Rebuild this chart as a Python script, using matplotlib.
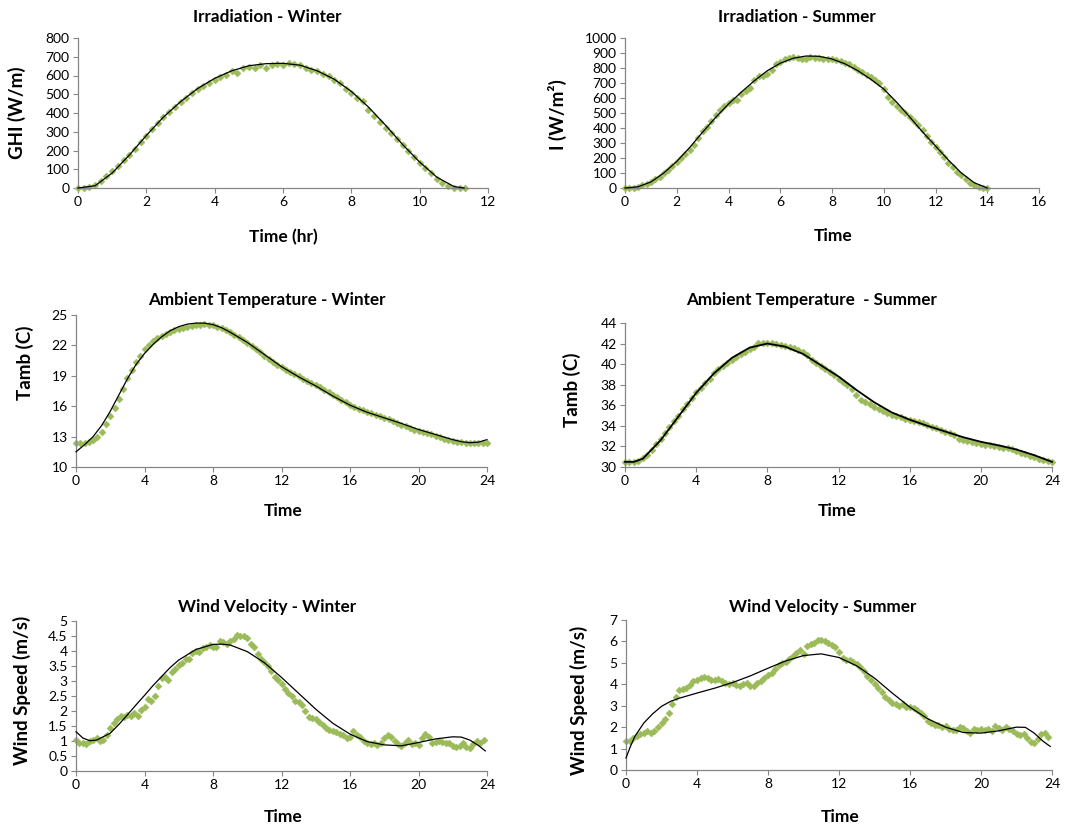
import numpy as np
import matplotlib
matplotlib.use('Agg')
import matplotlib.pyplot as plt
from matplotlib.ticker import FuncFormatter

plt.rcParams['font.family'] = ['Lato', 'DejaVu Sans']

# ---------------- data ----------------
# Irradiation - Winter (10-minute samples starting at 0 h)
irr_w_step = 1 / 6
irr_w_pts = [0, 0, 3, 15, 40, 65, 90, 118, 148, 178, 210, 245, 280, 315, 345,
             378, 405, 432, 458, 480, 505, 528, 545, 562, 578, 592, 605, 625,
             615, 638, 648, 638, 655, 642, 658, 662, 658, 668, 662, 658, 640,
             632, 622, 610, 598, 578, 560, 530, 505, 482, 462, 415, 385, 352,
             322, 295, 262, 230, 200, 165, 135, 105, 78, 50, 27, 12, 2, 0, 0]
irr_w_fit_t = [0, 0.5, 1, 1.5, 2, 2.5, 3, 3.5, 4, 4.5, 5, 5.5, 6, 6.5, 7, 7.5,
               8, 8.5, 9, 9.5, 10, 10.5, 11, 11.3]
irr_w_fit = [0, 12, 80, 175, 280, 378, 460, 530, 585, 625, 652, 663, 665, 655,
             625, 580, 515, 432, 335, 232, 138, 58, 8, 0]

# Irradiation - Summer (10-minute samples)
irr_s_step = 1 / 6
irr_s_pts = [0, 0, 2, 8, 18, 30, 42, 58, 75, 98, 120, 148, 175, 200, 228, 255,
             285, 335, 378, 410, 450, 488, 518, 550, 568, 585, 590, 630, 650,
             665, 720, 745, 748, 760, 790, 830, 840, 858, 870, 872, 870, 858,
             858, 872, 870, 865, 862, 860, 860, 855, 845, 835, 825, 808, 790,
             775, 755, 738, 718, 700, 660, 610, 575, 545, 520, 500, 475, 445,
             420, 385, 350, 310, 275, 238, 205, 170, 142, 110, 85, 58, 35, 18,
             5, 0, 0]
irr_s_fit_t = [0, 0.5, 1, 1.5, 2, 2.5, 3, 3.5, 4, 4.5, 5, 5.5, 6, 6.5, 7, 7.5,
               8, 8.5, 9, 9.5, 10, 10.5, 11, 11.5, 12, 12.5, 13, 13.5, 14]
irr_s_fit = [0, 8, 40, 100, 177, 270, 372, 470, 560, 640, 715, 782, 832, 865,
             880, 878, 860, 828, 782, 725, 660, 572, 474, 374, 280, 186, 100,
             35, 0]

# Ambient Temperature - Winter (15-minute samples)
tmp_w_step = 0.25
tmp_w_pts = [12.4, 12.4, 12.4, 12.5, 12.7, 13.0, 13.5, 14.2, 15.0, 15.8, 16.7,
             17.7, 18.8, 19.6, 20.35, 21.0, 21.6, 22.0, 22.4, 22.7, 22.95,
             23.15, 23.35, 23.5, 23.65, 23.75, 23.85, 23.95, 24.0, 24.05, 24.1,
             24.05, 24.0, 23.85, 23.7, 23.5, 23.3, 23.05, 22.8, 22.5, 22.25,
             21.95, 21.65, 21.3, 21.0, 20.7, 20.4, 20.1, 19.85, 19.6, 19.4,
             19.15, 18.95, 18.7, 18.5, 18.3, 18.05, 17.85, 17.6, 17.4, 17.15,
             16.9, 16.65, 16.4, 16.1, 15.9, 15.75, 15.6, 15.45, 15.3, 15.15,
             15.0, 14.85, 14.7, 14.55, 14.35, 14.15, 14.0, 13.85, 13.7, 13.6,
             13.5, 13.4, 13.3, 13.1, 12.95, 12.8, 12.7, 12.6, 12.5, 12.45,
             12.4, 12.4, 12.4, 12.4, 12.4, 12.4]
tmp_w_fit_t = [0, 0.5, 1, 1.5, 2, 2.5, 3, 3.5, 4, 4.5, 5, 5.5, 6, 6.5, 7, 7.5,
               8, 8.5, 9, 9.5, 10, 10.5, 11, 11.5, 12, 13, 14, 15, 16, 17, 18,
               19, 20, 21, 22, 22.5, 23, 23.5, 24]
tmp_w_fit = [11.5, 12.2, 13.0, 14.1, 15.5, 17.1, 18.7, 20.1, 21.2, 22.1, 22.85,
             23.45, 23.85, 24.1, 24.2, 24.2, 24.05, 23.75, 23.3, 22.8, 22.3,
             21.7, 21.1, 20.5, 19.9, 18.9, 18.0, 17.0, 16.1, 15.4, 14.85, 14.3,
             13.7, 13.2, 12.7, 12.5, 12.4, 12.45, 12.7]

# Ambient Temperature - Summer (15-minute samples)
tmp_s_step = 0.25
tmp_s_pts = [30.5, 30.45, 30.45, 30.6, 30.85, 31.2, 31.65, 32.2, 32.7, 33.3,
             33.9, 34.45, 35.0, 35.6, 36.15, 36.75, 37.25, 37.7, 38.15, 38.6,
             39.1, 39.5, 39.85, 40.15, 40.45, 40.7, 40.95, 41.2, 41.45, 41.7,
             42.1, 42.05, 42.1, 42.05, 42.0, 41.9, 41.8, 41.7, 41.55, 41.4,
             41.2, 40.9, 40.4, 40.1, 39.8, 39.5, 39.2, 38.9, 38.6, 38.3, 37.95,
             37.55, 37.0, 36.55, 36.35, 36.1, 35.85, 35.6, 35.4, 35.25, 35.1,
             34.95, 34.85, 34.7, 34.6, 34.5, 34.4, 34.3, 34.1, 33.9, 33.75,
             33.6, 33.45, 33.3, 33.15, 32.75, 32.65, 32.55, 32.4, 32.3, 32.2,
             32.15, 32.1, 32.0, 31.95, 31.85, 31.8, 31.75, 31.6, 31.4, 31.25,
             31.1, 30.95, 30.8, 30.65, 30.55, 30.45]
tmp_s_fit_t = [0, 0.5, 1, 2, 3, 4, 5, 6, 7, 8, 9, 10, 11, 12, 13, 14, 15, 16,
               17, 18, 19, 20, 21, 22, 23, 24]
tmp_s_fit = [30.5, 30.5, 30.8, 32.6, 34.9, 37.2, 39.1, 40.6, 41.6, 42.0, 41.7,
             41.0, 39.9, 38.8, 37.5, 36.3, 35.3, 34.6, 34.0, 33.45, 32.9,
             32.45, 32.1, 31.7, 31.15, 30.5]

# Wind Velocity - Winter (12-minute samples)
wnd_w_step = 0.2
wnd_w_pts = [1.05, 0.95, 0.92, 0.90, 1.00, 1.05, 1.10, 1.00, 1.05, 1.20, 1.45,
             1.60, 1.75, 1.85, 1.80, 1.88, 1.85, 1.95, 1.82, 2.05, 2.15, 2.40,
             2.35, 2.50, 2.85, 3.10, 3.15, 3.05, 3.30, 3.40, 3.55, 3.60, 3.75,
             3.72, 3.95, 4.00, 3.98, 4.10, 4.15, 4.20, 4.15, 4.12, 4.32, 4.30,
             4.25, 4.35, 4.40, 4.52, 4.50, 4.50, 4.45, 4.25, 4.15, 3.90, 3.75,
             3.65, 3.50, 3.35, 3.15, 3.05, 2.90, 2.75, 2.60, 2.50, 2.35, 2.30,
             2.20, 2.00, 1.80, 1.78, 1.75, 1.65, 1.55, 1.45, 1.38, 1.35, 1.30,
             1.25, 1.20, 1.10, 1.15, 1.35, 1.20, 1.15, 1.00, 0.95, 0.90, 0.95,
             0.88, 0.95, 1.10, 1.20, 1.15, 1.00, 0.90, 0.85, 0.95, 1.05, 0.90,
             0.95, 0.88, 1.10, 1.25, 1.15, 0.95, 0.98, 1.00, 0.98, 0.95, 0.95,
             0.85, 0.80, 0.85, 0.95, 0.80, 0.78, 0.90, 1.00, 0.95, 1.05]
wnd_w_fit_t = [0, 0.4, 0.8, 1.2, 2, 2.5, 3, 3.5, 4, 4.5, 5, 5.5, 6, 7, 8, 8.5,
               9, 10, 11, 12, 13, 14, 15, 16, 17, 18, 19, 20, 21, 22, 22.5, 23,
               23.5, 23.9]
wnd_w_fit = [1.31, 1.1, 1.01, 1.03, 1.26, 1.55, 1.87, 2.2, 2.52, 2.85, 3.15,
             3.45, 3.7, 4.05, 4.22, 4.23, 4.2, 3.98, 3.61, 3.12, 2.59, 2.06,
             1.59, 1.23, 0.98, 0.87, 0.84, 0.95, 1.07, 1.14, 1.13, 1.03, 0.85,
             0.67]

# Wind Velocity - Summer (12-minute samples)
wnd_s_step = 0.2
wnd_s_pts = [1.35, 1.35, 1.50, 1.60, 1.70, 1.75, 1.80, 1.75, 1.80, 2.00, 2.20,
             2.40, 2.65, 3.10, 3.40, 3.75, 3.80, 3.85, 3.95, 4.15, 4.20, 4.30,
             4.35, 4.30, 4.22, 4.20, 4.25, 4.15, 4.05, 4.00, 4.05, 3.95, 3.90,
             4.00, 4.05, 3.90, 3.92, 4.05, 4.15, 4.30, 4.45, 4.55, 4.70, 4.90,
             5.00, 5.02, 5.20, 5.30, 5.45, 5.60, 5.40, 5.80, 5.90, 5.95, 6.08,
             6.05, 6.00, 5.92, 5.85, 5.75, 5.50, 5.25, 5.15, 5.12, 5.05, 4.95,
             4.80, 4.60, 4.40, 4.20, 4.00, 3.85, 3.65, 3.40, 3.25, 3.12, 3.08,
             3.00, 3.10, 2.95, 2.92, 2.88, 2.80, 2.65, 2.50, 2.30, 2.20, 2.12,
             2.08, 2.00, 2.05, 1.92, 1.85, 1.88, 2.00, 1.95, 1.82, 1.75, 1.92,
             1.88, 1.90, 1.85, 1.90, 1.82, 2.05, 1.98, 1.85, 2.00, 1.92, 1.80,
             1.70, 1.62, 1.68, 1.50, 1.30, 1.28, 1.45, 1.70, 1.75, 1.55]
wnd_s_fit_t = [0, 0.25, 0.5, 1, 1.5, 2, 2.5, 3, 4, 5, 6, 7, 8, 9, 10, 11, 12,
               13, 14, 15, 16, 17, 18, 19, 20, 21, 22, 22.5, 23, 23.5, 23.9]
wnd_s_fit = [0.56, 1.1, 1.57, 2.19, 2.62, 2.97, 3.2, 3.35, 3.59, 3.82, 4.08,
             4.39, 4.75, 5.09, 5.34, 5.42, 5.25, 4.86, 4.29, 3.59, 2.93, 2.39,
             2.0, 1.75, 1.72, 1.83, 2.0, 1.99, 1.72, 1.34, 1.1]

# ---------------- style ----------------
GREEN = '#9BBB59'
AXIS_GRAY = '#868686'
W, H = 1069, 827


def fig_rect(x0, y0, x1, y1):
    return [x0 / W, 1 - y1 / H, (x1 - x0) / W, (y1 - y0) / H]


fig = plt.figure(figsize=(W / 100, H / 100), dpi=100)
fmt = FuncFormatter(lambda v, p: '{:g}'.format(round(v, 2)))


def panel(rect, pts, step, fit_t, fit, xlim, xticks, ylim, yticks, lw=0.9):
    ax = fig.add_axes(fig_rect(*rect))
    t = np.arange(len(pts)) * step
    ax.plot(t, pts, linestyle='none', marker='D', ms=3.5, mfc=GREEN,
            mec=GREEN, mew=0.4, clip_on=False, zorder=2)
    ax.plot(fit_t, fit, color='black', lw=lw, zorder=3, clip_on=False)
    ax.set_xlim(*xlim)
    ax.set_ylim(*ylim)
    ax.set_xticks(xticks)
    ax.set_yticks(yticks)
    ax.yaxis.set_major_formatter(fmt)
    for s in ('top', 'right'):
        ax.spines[s].set_visible(False)
    for s in ('left', 'bottom'):
        ax.spines[s].set_color(AXIS_GRAY)
        ax.spines[s].set_linewidth(0.9)
    ax.tick_params(direction='out', length=3.5, width=0.8, color=AXIS_GRAY,
                   labelsize=10, labelcolor='black', pad=2.5)
    ax.patch.set_alpha(0)
    return ax


panel((78, 38, 488, 188), irr_w_pts, irr_w_step, irr_w_fit_t, irr_w_fit,
      (0, 12), range(0, 13, 2), (0, 800), range(0, 801, 100))
panel((625, 38, 1039, 188), irr_s_pts, irr_s_step, irr_s_fit_t, irr_s_fit,
      (0, 16), range(0, 17, 2), (0, 1000), range(0, 1001, 100))
panel((76, 315, 487, 467), tmp_w_pts, tmp_w_step, tmp_w_fit_t, tmp_w_fit,
      (0, 24), range(0, 25, 4), (10, 25), range(10, 26, 3))
panel((625, 323, 1052, 467), tmp_s_pts, tmp_s_step, tmp_s_fit_t, tmp_s_fit,
      (0, 24), range(0, 25, 4), (30, 44), range(30, 45, 2), lw=1.3)
panel((76, 621, 487, 771), wnd_w_pts, wnd_w_step, wnd_w_fit_t, wnd_w_fit,
      (0, 24), range(0, 25, 4), (0, 5), np.arange(0, 5.01, 0.5))
panel((626, 620, 1052, 770), wnd_s_pts, wnd_s_step, wnd_s_fit_t, wnd_s_fit,
      (0, 24), range(0, 25, 4), (0, 7), range(0, 8, 1))


def ftxt(x, y, s, size, rot=0):
    fig.text(x / W, 1 - y / H, s, fontsize=size, fontweight='bold',
             ha='center', va='center', rotation=rot)


# titles
ftxt(267, 17, 'Irradiation - Winter', 12.3)
ftxt(797, 17, 'Irradiation - Summer', 12.3)
ftxt(267, 300, 'Ambient Temperature - Winter', 12.3)
ftxt(812, 300, 'Ambient Temperature  - Summer', 12.3)
ftxt(267, 607, 'Wind Velocity - Winter', 12.3)
ftxt(823, 607, 'Wind Velocity - Summer', 12.3)

# x labels
ftxt(283, 237, 'Time (hr)', 12.5)
ftxt(833, 236, 'Time', 12.5)
ftxt(283, 511, 'Time', 12.5)
ftxt(837, 511, 'Time', 12.5)
ftxt(283, 817, 'Time', 12.5)
ftxt(840, 817, 'Time', 12.5)

# y labels
ftxt(17, 113, 'GHI (W/m)', 13.5, 90)
ftxt(557, 115, 'I (W/m²)', 13.5, 90)
ftxt(25, 363, 'Tamb (C)', 13.5, 90)
ftxt(572, 390, 'Tamb (C)', 13.5, 90)
ftxt(22, 690, 'Wind Speed (m/s)', 13.5, 90)
ftxt(579, 700, 'Wind Speed (m/s)', 13.5, 90)

fig.savefig('out.png', dpi=100, facecolor='white')
